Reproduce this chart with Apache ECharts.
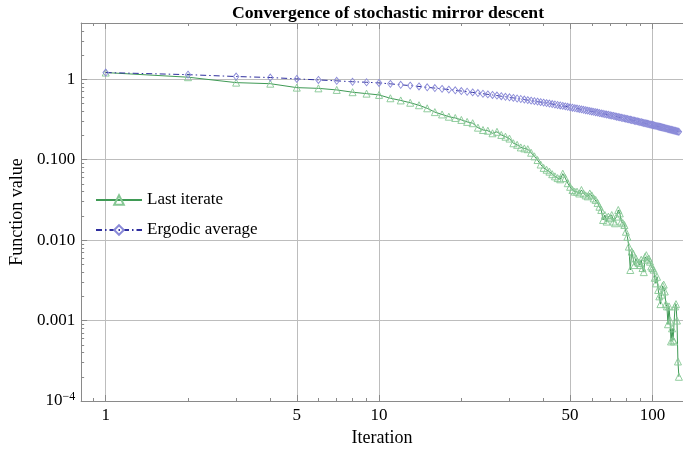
<!DOCTYPE html>
<html><head><meta charset="utf-8">
<script src="https://cdn.jsdelivr.net/npm/echarts@6/dist/echarts.min.js"></script>
<style>html,body{margin:0;padding:0;background:#fff}#c{width:683px;height:452px}</style>
</head><body><div id="c"></div>
<script>
// ---- data ----
const iterations = [1,2,3,4,5,6,7,8,9,10,11,12,13,14,15,16,17,18,19,20,21,22,23,24,25,26,27,28,29,30,31,32,33,34,35,36,37,38,39,40,41,42,43,44,45,46,47,48,49,50,51,52,53,54,55,56,57,58,59,60,61,62,63,64,65,66,67,68,69,70,71,72,73,74,75,76,77,78,79,80,81,82,83,84,85,86,87,88,89,90,91,92,93,94,95,96,97,98,99,100,101,102,103,104,105,106,107,108,109,110,111,112,113,114,115,116,117,118,119,120,121,122,123,124,125];
const lastIterate = [1.21,1.06,0.907,0.88,0.786,0.77,0.736,0.69,0.662,0.638,
 0.58,0.545,0.51,0.475,0.435,0.39,0.365,0.342,0.33,0.312,
 0.295,0.284,0.25,0.234,0.229,0.213,0.222,0.203,0.193,0.183,
 0.16,0.153,0.142,0.138,0.135,0.122,0.11,0.099,0.087,0.079,
 0.075,0.071,0.066,0.062,0.059,0.057,0.067,0.059,0.051,0.046,
 0.042,0.040,0.040,0.038,0.042,0.038,0.036,0.035,0.038,0.036,
 0.033,0.0316,0.029,0.026,0.0237,0.0178,0.0205,0.017,0.0196,0.0187,
 0.0205,0.017,0.0162,0.0196,0.0237,0.0215,0.017,0.0162,0.0154,0.0127,
 0.011,0.0083,0.00425,0.0072,0.0068,0.0049,0.0059,0.0054,0.0052,0.0049,
 0.0057,0.0045,0.004,0.0062,0.0065,0.0057,0.0059,0.0054,0.0047,0.0045,
 0.0043,0.0034,0.0029,0.0035,0.0024,0.002,0.0016,0.0021,0.0027,0.0028,
 0.0023,0.0016,0.0015,0.0009,0.0015,0.001,0.00055,0.0008,0.00057,0.00055,
 0.0015,0.0016,0.001,0.00031,0.0002];
const ergodicAverage = [1.21,1.14,1.08,1.05,1.01,0.98,0.955,0.93,0.917,0.90,
 0.876,0.853,0.833,0.813,0.794,0.776,0.759,0.743,0.728,0.713,
 0.699,0.686,0.673,0.660,0.648,0.637,0.626,0.615,0.605,0.596,
 0.586,0.576,0.568,0.559,0.550,0.542,0.534,0.527,0.519,0.512,
 0.505,0.498,0.491,0.485,0.478,0.472,0.466,0.460,0.454,0.448,
 0.443,0.437,0.432,0.427,0.422,0.417,0.412,0.407,0.402,0.398,
 0.393,0.389,0.385,0.380,0.376,0.372,0.368,0.364,0.361,0.357,
 0.353,0.350,0.346,0.342,0.339,0.336,0.332,0.329,0.326,0.323,
 0.320,0.317,0.314,0.311,0.308,0.305,0.302,0.300,0.297,0.294,
 0.292,0.289,0.286,0.284,0.281,0.279,0.277,0.274,0.272,0.270,
 0.268,0.265,0.263,0.261,0.259,0.257,0.255,0.253,0.251,0.249,
 0.247,0.245,0.243,0.241,0.239,0.237,0.236,0.234,0.232,0.230,
 0.229,0.227,0.225,0.224,0.222];
const xMajorTicks = [1,5,10,50,100];
const xTickLabels = ['1','5','10','50','100'];
const xMinorTicks = [0.9,2,3,4,6,7,8,9,20,30,40,60,70,80,90];
const yMajorTicks = [1e-4,1e-3,1e-2,1e-1,1];
const yTickLabels = ['10{sup|\u22124}','0.001','0.010','0.100','1'];
const yMinorTicks = [2e-4,3e-4,4e-4,5e-4,6e-4,7e-4,8e-4,9e-4,
 2e-3,3e-3,4e-3,5e-3,6e-3,7e-3,8e-3,9e-3,
 0.02,0.03,0.04,0.05,0.06,0.07,0.08,0.09,
 0.2,0.3,0.4,0.5,0.6,0.7,0.8,0.9,2,3,4];
const xRange = [0.813, 129.4];
const yRange = [1e-4, 5];

// ---- chart ----
const L = Math.log10;
const font = 'Liberation Serif';
const lx = v => L(v), ly = v => L(v);
function pick(vals, labels, v) {
  let best = 0, d = Infinity;
  vals.forEach((t, i) => { const dd = Math.abs(L(t) - v); if (dd < d) { d = dd; best = i; } });
  return labels[best];
}
const axisColor = '#8a8a8a';
const gridColor = '#bdbdbd';
const xBase = { type: 'value', min: L(xRange[0]), max: L(xRange[1]), gridIndex: 0 };
const yBase = { type: 'value', min: L(yRange[0]), max: L(yRange[1]), gridIndex: 0 };
const chart = echarts.init(document.getElementById('c'), null, { renderer: 'canvas' });
chart.setOption({
  animation: false,
  backgroundColor: '#fff',
  title: {
    text: 'Convergence of stochastic mirror descent',
    left: 383, top: -1, textAlign: 'center',
    textStyle: { fontFamily: font, fontWeight: 'bold', fontSize: 17.7, color: '#000' }
  },
  grid: { left: 79, right: 0, top: 23, bottom: 51, containLabel: false },
  legend: {
    orient: 'vertical', left: 90, top: 186, itemWidth: 46, itemHeight: 12, itemGap: 12,
    textStyle: { fontFamily: font, fontSize: 17, color: '#000', lineHeight: 18 },
    data: ['Last iterate', 'Ergodic average']
  },
  xAxis: [
    Object.assign({}, xBase, {
      position: 'bottom',
      name: 'Iteration', nameLocation: 'middle', nameGap: 27,
      nameTextStyle: { fontFamily: font, fontSize: 18, color: '#000' },
      axisLine: { show: true, onZero: false, lineStyle: { color: axisColor, width: 1 } },
      axisTick: { show: true, inside: true, length: 6, customValues: xMajorTicks.map(lx), lineStyle: { color: axisColor } },
      axisLabel: { show: true, customValues: xMajorTicks.map(lx), margin: 6,
        fontFamily: font, fontSize: 17, color: '#000',
        formatter: v => pick(xMajorTicks, xTickLabels, v) },
      splitLine: { show: true, lineStyle: { color: gridColor, width: 1 } }
    }),
    Object.assign({}, xBase, {
      position: 'bottom',
      axisLine: { show: false, onZero: false },
      axisTick: { show: true, inside: true, length: 3, customValues: xMinorTicks.map(lx), lineStyle: { color: axisColor } },
      axisLabel: { show: false }, splitLine: { show: false }
    }),
    Object.assign({}, xBase, {
      position: 'top',
      axisLine: { show: true, onZero: false, lineStyle: { color: axisColor, width: 1 } },
      axisTick: { show: true, inside: true, length: 6, customValues: xMajorTicks.map(lx), lineStyle: { color: axisColor } },
      axisLabel: { show: false }, splitLine: { show: false }
    }),
    Object.assign({}, xBase, {
      position: 'top',
      axisLine: { show: false, onZero: false },
      axisTick: { show: true, inside: true, length: 3, customValues: xMinorTicks.map(lx), lineStyle: { color: axisColor } },
      axisLabel: { show: false }, splitLine: { show: false }
    })
  ],
  yAxis: [
    Object.assign({}, yBase, {
      position: 'left',
      name: 'Function value', nameLocation: 'middle', nameGap: 54, nameRotate: 90,
      nameTextStyle: { fontFamily: font, fontSize: 18, color: '#000' },
      axisLine: { show: true, onZero: false, lineStyle: { color: axisColor, width: 1 } },
      axisTick: { show: true, inside: true, length: 6, customValues: yMajorTicks.map(ly), lineStyle: { color: axisColor } },
      axisLabel: { show: true, customValues: yMajorTicks.map(ly), margin: 6,
        fontFamily: font, fontSize: 17, color: '#000',
        formatter: v => pick(yMajorTicks, yTickLabels, v),
        rich: { sup: { fontFamily: font, fontSize: 12, color: '#000', verticalAlign: 'top', padding: [0, 0, 8, 0] } } },
      splitLine: { show: true, lineStyle: { color: gridColor, width: 1 } }
    }),
    Object.assign({}, yBase, {
      position: 'left',
      axisLine: { show: false, onZero: false },
      axisTick: { show: true, inside: true, length: 3, customValues: yMinorTicks.map(ly), lineStyle: { color: axisColor } },
      axisLabel: { show: false }, splitLine: { show: false }
    })
  ],
  series: [
    {
      name: 'Last iterate', type: 'line', xAxisIndex: 0, yAxisIndex: 0,
      data: iterations.map((k, i) => [lx(k), ly(lastIterate[i])]),
      symbol: 'triangle', symbolSize: 7, showSymbol: true,
      lineStyle: { color: '#3f9a55', width: 1 },
      itemStyle: { color: 'rgba(255,255,255,0)', borderColor: '#86c794', borderWidth: 0.9 },
      emphasis: { disabled: true }, z: 3
    },
    {
      name: 'Ergodic average', type: 'line', xAxisIndex: 0, yAxisIndex: 0,
      data: iterations.map((k, i) => [lx(k), ly(ergodicAverage[i])]),
      symbol: 'diamond', symbolSize: [5.5, 7], showSymbol: true,
      lineStyle: { color: '#2e2e9e', width: 1, type: [6, 3, 1.5, 3] },
      itemStyle: { color: 'rgba(255,255,255,0)', borderColor: '#8a8ad8', borderWidth: 0.9 },
      emphasis: { disabled: true }, z: 4
    }
  ]
});
</script>
</body></html>
